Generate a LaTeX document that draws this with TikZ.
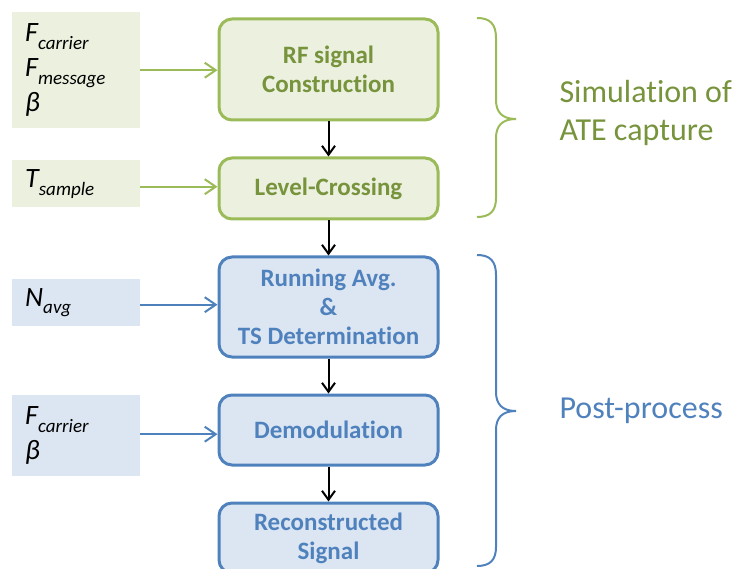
\documentclass[tikz,border=0pt]{standalone}
\usepackage{fontspec}
\setmainfont[Ligatures=NoCommon]{Carlito}
\usetikzlibrary{arrows.meta}
\definecolor{gline}{HTML}{9BBB59}
\definecolor{gfill}{HTML}{EBF1DE}
\definecolor{gtext}{HTML}{77933C}
\definecolor{bline}{HTML}{4F81BD}
\definecolor{bfill}{HTML}{DCE6F2}
\definecolor{btext}{HTML}{4F81BD}
\newcommand{\sbs}[1]{\raisebox{-0.28em}{\fontsize{19}{19}\selectfont #1}}
\tikzset{
  proc/.style={rectangle, rounded corners=13pt, line width=3pt, minimum width=219pt,
    align=center, font=\fontsize{25}{29}\selectfont\bfseries, inner sep=0pt},
  gproc/.style={proc, draw=gline, fill=gfill, text=gtext},
  bproc/.style={proc, draw=bline, fill=bfill, text=btext},
  inbox/.style={rectangle, minimum width=128pt, text width=110pt, align=left, inner sep=0pt,
    anchor=north west, font=\fontsize{28}{35}\selectfont\itshape},
  gin/.style={inbox, fill=gfill},
  bin/.style={inbox, fill=bfill},
  tip/.style={-{Straight Barb[length=11pt,width=15pt]}},
  garrow/.style={tip, draw=gline, line width=2pt},
  barrow/.style={tip, draw=bline, line width=2pt},
  karrow/.style={-{Straight Barb[length=9pt,width=13pt]}, draw=black, line width=2pt},
  brace/.style={line width=2pt},
  side/.style={anchor=west, align=left, font=\fontsize{32}{38}\selectfont}
}
\begin{document}
\begin{tikzpicture}[x=1pt,y=-1pt]
\useasboundingbox (0,0) rectangle (733,569);
% process boxes
\node[gproc, minimum height=101pt] (rf) at (328.5,69.5) {RF signal\\Construction};
\node[gproc, minimum height=61pt] (lc) at (328.5,188.5) {Level-Crossing};
\node[bproc, minimum height=100pt] (ra) at (328.5,307) {Running Avg.\\\&\\TS Determination};
\node[bproc, minimum height=70pt] (dm) at (328.5,430) {Demodulation};
\node[bproc, minimum height=70pt] (rs) at (328.5,538) {Reconstructed\\Signal};
% input boxes
\node[gin, minimum height=116pt] (in1) at (12,12) {\hspace*{4pt}F\sbs{carrier}\\\hspace*{4pt}F\sbs{message}\\\hspace*{4pt}β};
\node[gin, minimum height=47pt] (in2) at (12,160) {\hspace*{4pt}T\sbs{sample}};
\node[bin, minimum height=47pt] (in3) at (12,279) {\hspace*{4pt}N\sbs{avg}};
\node[bin, minimum height=81pt] (in4) at (12,395) {\hspace*{4pt}F\sbs{carrier}\\\hspace*{4pt}β};
% input arrows
\draw[garrow] (in1.east) -- (in1.east -| rf.west);
\draw[garrow] ([yshift=-3pt]in2.east) -- ([yshift=-3pt]in2.east -| lc.west);
\draw[barrow] ([yshift=-2pt]in3.east) -- ([yshift=-2pt]in3.east -| ra.west);
\draw[barrow] ([yshift=1.5pt]in4.east) -- ([yshift=1.5pt]in4.east -| dm.west);
% flow arrows
\draw[karrow] (rf.south) -- (lc.north);
\draw[karrow] (lc.south) -- (ra.north);
\draw[karrow] (ra.south) -- (dm.north);
\draw[karrow] (dm.south) -- (rs.north);
% braces
\draw[brace, gline] (477,18) .. controls (490,18) and (496,24) .. (496,38) -- (496,100)
  .. controls (496,112) and (502,119) .. (516,119)
  .. controls (502,119) and (496,126) .. (496,138) -- (496,198)
  .. controls (496,211) and (490,217) .. (477,217);
\draw[brace, bline] (477,255) .. controls (490,255) and (496,261) .. (496,275) -- (496,392)
  .. controls (496,404) and (502,411) .. (516,411)
  .. controls (502,411) and (496,418) .. (496,430) -- (496,547)
  .. controls (496,560) and (490,566) .. (477,566);
% side labels
\node[side, text=gtext] (sim) at (556,113) {Simulation of\\ATE capture};
\node[side, text=btext] (pp) at (556,411) {Post-process};
\end{tikzpicture}
\end{document}
